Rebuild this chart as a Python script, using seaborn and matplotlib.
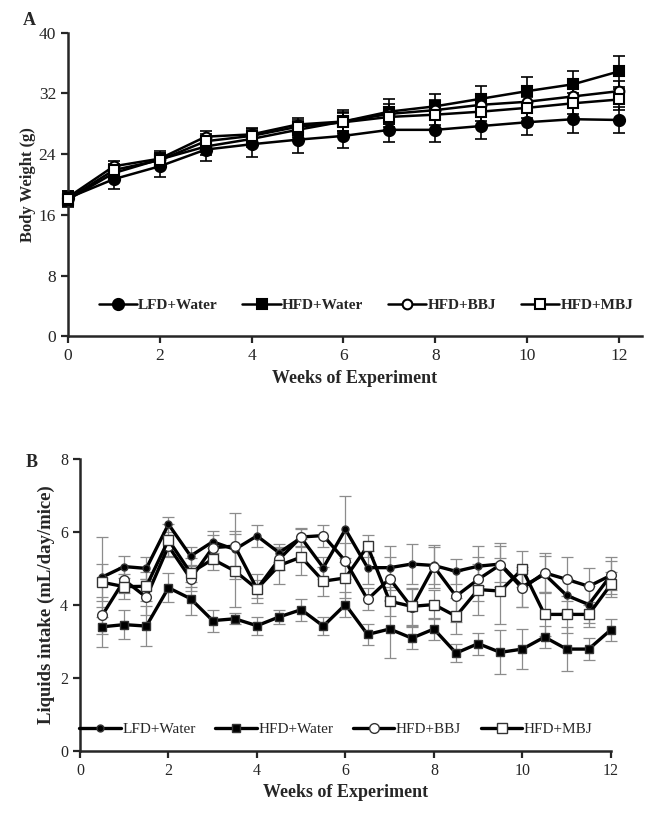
import seaborn as sns
import pandas as pd
import matplotlib.pyplot as plt

# Body weight data (panel A)
weeks_a = [0, 1, 2, 3, 4, 5, 6, 7, 8, 9, 10, 11, 12]
lfd_water_a = [18.2, 20.7, 22.4, 24.6, 25.3, 25.9, 26.4, 27.2, 27.2, 27.7, 28.2, 28.6, 28.5]
hfd_water_a = [18.0, 21.5, 23.3, 25.0, 26.0, 27.2, 28.3, 29.6, 30.3, 31.3, 32.3, 33.2, 34.9]
hfd_bbj_a = [18.3, 22.4, 23.4, 26.3, 26.6, 27.9, 28.3, 29.3, 29.8, 30.5, 30.9, 31.6, 32.3]
hfd_mbj_a = [18.1, 21.9, 23.2, 25.7, 26.4, 27.6, 28.2, 28.9, 29.2, 29.6, 30.1, 30.7, 31.2]
lfd_water_a_err = [1.0, 1.3, 1.4, 1.5, 1.7, 1.7, 1.6, 1.6, 1.6, 1.7, 1.7, 1.8, 1.7]
hfd_water_a_err = [1.0, 1.0, 1.1, 1.1, 1.0, 1.0, 1.5, 1.6, 1.6, 1.7, 1.8, 1.8, 2.0]
hfd_bbj_a_err = [0.8, 0.7, 0.8, 0.8, 0.8, 0.8, 1.2, 1.3, 1.3, 1.3, 1.4, 1.4, 1.4]
hfd_mbj_a_err = [0.8, 0.8, 0.9, 0.9, 0.9, 0.9, 1.2, 1.3, 1.3, 1.3, 1.4, 1.4, 1.4]

# Liquids intake data (panel B)
weeks_b = [0.5, 1, 1.5, 2, 2.5, 3, 3.5, 4, 4.5, 5, 5.5, 6,
           6.5, 7, 7.5, 8, 8.5, 9, 9.5, 10, 10.5, 11, 11.5, 12]
lfd_water_b = [4.76, 5.05, 5.0, 6.21, 5.34, 5.73, 5.52, 5.89, 5.43, 5.84, 5.02, 6.07,
               5.02, 5.02, 5.12, 5.08, 4.92, 5.06, 5.12, 4.5, 4.84, 4.26, 4.01, 4.81]
hfd_water_b = [3.4, 3.46, 3.42, 4.47, 4.17, 3.57, 3.62, 3.43, 3.67, 3.87, 3.42, 4.01,
               3.19, 3.34, 3.09, 3.34, 2.68, 2.94, 2.7, 2.79, 3.12, 2.79, 2.79, 3.32]
hfd_bbj_b = [3.71, 4.68, 4.21, 5.61, 4.72, 5.57, 5.61, 4.44, 5.25, 5.86, 5.9, 5.2,
             4.15, 4.72, 3.93, 5.05, 4.24, 4.7, 5.1, 4.45, 4.88, 4.7, 4.51, 4.81]
hfd_mbj_b = [4.62, 4.5, 4.51, 5.78, 4.88, 5.25, 4.93, 4.44, 5.08, 5.31, 4.65, 4.74,
             5.61, 4.1, 3.96, 4.01, 3.69, 4.42, 4.38, 4.98, 3.74, 3.74, 3.74, 4.56]
lfd_water_b_err = [1.1, 0.3, 0.3, 0.2, 0.25, 0.3, 0.5, 0.3, 0.25, 0.25, 0.3, 0.9,
                   0.45, 0.6, 0.55, 0.5, 0.35, 0.55, 0.5, 0.55, 0.5, 0.45, 0.5, 0.5]
hfd_water_b_err = [0.55, 0.4, 0.55, 0.4, 0.45, 0.3, 0.15, 0.25, 0.2, 0.3, 0.25, 0.35,
                   0.3, 0.8, 0.3, 0.3, 0.25, 0.3, 0.6, 0.55, 0.3, 0.6, 0.3, 0.3]
hfd_bbj_b_err = [0.5, 0.35, 0.5, 0.3, 0.35, 0.35, 0.9, 0.25, 0.3, 0.25, 0.3, 0.5,
                 0.3, 0.6, 0.5, 0.6, 0.7, 0.6, 0.6, 0.5, 0.55, 0.6, 0.5, 0.4]
hfd_mbj_b_err = [0.5, 0.35, 0.4, 0.45, 0.4, 0.3, 1.0, 0.4, 0.5, 0.5, 0.4, 0.55,
                 0.3, 0.4, 0.5, 0.4, 0.5, 0.7, 0.9, 0.5, 0.6, 0.5, 0.35, 0.35]

labels = ['LFD+Water', 'HFD+Water', 'HFD+BBJ', 'HFD+MBJ']

sns.set_style('ticks')
plt.rcParams['font.family'] = ['Liberation Serif', 'DejaVu Serif']
plt.rcParams['axes.linewidth'] = 1.8
plt.rcParams['xtick.major.width'] = 1.6
plt.rcParams['ytick.major.width'] = 1.6
plt.rcParams['xtick.major.size'] = 5
plt.rcParams['ytick.major.size'] = 5

fig = plt.figure(figsize=(6.53, 8.18), dpi=100)
ax1 = fig.add_axes([0.104, 0.589, 0.879, 0.371])
ax2 = fig.add_axes([0.1225, 0.082, 0.813, 0.357])


def no_clip(container):
    # let error bars at the axis edge draw fully
    for art in container.lines[1] + container.lines[2]:
        art.set_clip_on(False)


# Panel A
styles_a = [
    dict(marker='o', markersize=8, markerfacecolor='black'),
    dict(marker='s', markersize=7, markerfacecolor='black'),
    dict(marker='o', markersize=7, markerfacecolor='white'),
    dict(marker='s', markersize=7, markerfacecolor='white'),
]
series_a = [lfd_water_a, hfd_water_a, hfd_bbj_a, hfd_mbj_a]
errs_a = [lfd_water_a_err, hfd_water_a_err, hfd_bbj_a_err, hfd_mbj_a_err]
for vals, err, lab, st in zip(series_a, errs_a, labels, styles_a):
    eb = ax1.errorbar(weeks_a, vals, yerr=err, fmt='none', ecolor='black',
                      elinewidth=1.2, capsize=4, capthick=1.2, zorder=1)
    no_clip(eb)
    sns.lineplot(x=weeks_a, y=vals, ax=ax1, color='black', linewidth=1.8,
                 markeredgecolor='black', markeredgewidth=1.5, label=lab,
                 zorder=3, clip_on=False, **st)

ax1.set_xlim(0, 12.5)
ax1.set_ylim(0, 40)
ax1.set_xticks([0, 2, 4, 6, 8, 10, 12])
ax1.set_yticks([0, 8, 16, 24, 32, 40])
ax1.tick_params(labelsize=12.5)
ax1.set_xlabel('Weeks of Experiment', fontsize=13, fontweight='bold')
ax1.set_ylabel('Body Weight (g)', fontsize=12, fontweight='bold', labelpad=2)
sns.despine(ax=ax1)
ax1.legend(loc='center', bbox_to_anchor=(0.519, 0.102), ncol=4, frameon=False,
           prop={'size': 11, 'weight': 'bold'}, handlelength=2.5,
           columnspacing=1.6, handletextpad=0.1)
fig.text(0.035, 0.975, 'A', fontsize=13, fontweight='bold', va='center')

# Panel B
styles_b = [
    dict(marker='o', markersize=5, markerfacecolor='black'),
    dict(marker='s', markersize=6, markerfacecolor='black'),
    dict(marker='o', markersize=7, markerfacecolor='white'),
    dict(marker='s', markersize=7, markerfacecolor='white'),
]
series_b = [lfd_water_b, hfd_water_b, hfd_bbj_b, hfd_mbj_b]
errs_b = [lfd_water_b_err, hfd_water_b_err, hfd_bbj_b_err, hfd_mbj_b_err]
for vals, err, lab, st in zip(series_b, errs_b, labels, styles_b):
    eb = ax2.errorbar(weeks_b, vals, yerr=err, fmt='none', ecolor='#8c8c8c',
                      elinewidth=0.9, capsize=4, capthick=0.9, zorder=1)
    no_clip(eb)
    sns.lineplot(x=weeks_b, y=vals, ax=ax2, color='black', linewidth=2.4,
                 markeredgecolor='#333333', markeredgewidth=1.0, label=lab,
                 zorder=3, clip_on=False, **st)

ax2.set_xlim(0, 12)
ax2.set_ylim(0, 8)
ax2.set_xticks([0, 2, 4, 6, 8, 10, 12])
ax2.set_yticks([0, 2, 4, 6, 8])
ax2.tick_params(labelsize=11.5)
ax2.set_xlabel('Weeks of Experiment', fontsize=13, fontweight='bold')
ax2.set_ylabel('Liquids intake (mL/day/mice)', fontsize=13.5, fontweight='bold')
sns.despine(ax=ax2)
ax2.legend(loc='center', bbox_to_anchor=(0.482, 0.075), ncol=4, frameon=False,
           prop={'size': 11}, handlelength=2.7, columnspacing=1.3,
           handletextpad=0.1)
fig.text(0.04, 0.435, 'B', fontsize=13, fontweight='bold', va='center')

fig.savefig('out.png', dpi=100)
